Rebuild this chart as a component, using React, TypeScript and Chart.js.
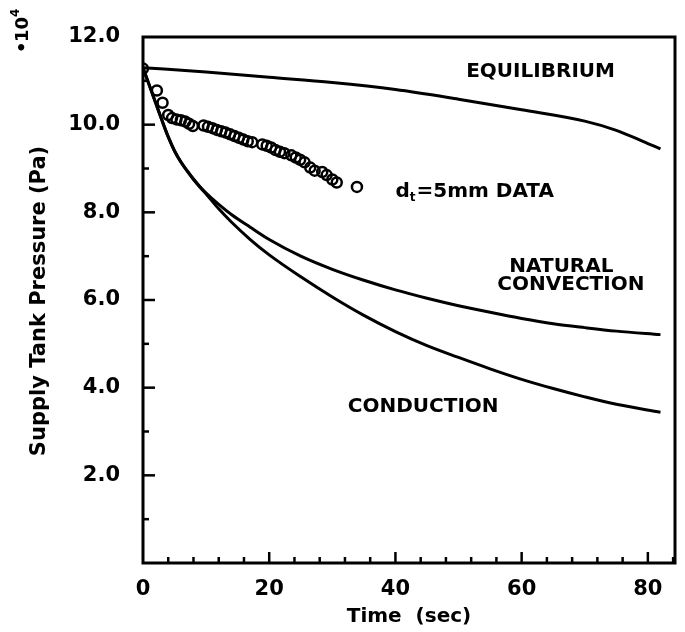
import React, { useEffect, useRef } from "react";
import { Chart, registerables } from "chart.js";

Chart.register(...registerables);

// Measured data (d_t = 5 mm)
const dataTime = [0, 2.2, 3.1, 4.0, 4.6, 5.3, 6.0, 6.7, 7.3, 7.9, 9.6, 10.3, 11.0, 11.7, 12.4, 13.1, 13.8, 14.5, 15.2, 15.9, 16.6, 17.3, 18.9, 19.6, 20.3, 21.0, 21.7, 22.4, 23.5, 24.2, 24.9, 25.6, 26.5, 27.2, 28.4, 29.1, 30.0, 30.7, 33.9];
const dataPressure = [11.28, 10.78, 10.5, 10.22, 10.15, 10.12, 10.1, 10.07, 10.02, 9.97, 9.98, 9.95, 9.92, 9.88, 9.85, 9.82, 9.78, 9.74, 9.7, 9.66, 9.62, 9.6, 9.55, 9.52, 9.48, 9.42, 9.38, 9.35, 9.3, 9.25, 9.2, 9.14, 9.02, 8.95, 8.92, 8.85, 8.75, 8.68, 8.58];

// Model curves
const eqTime = [0, 10, 20, 30, 40, 50, 60, 70, 75, 80, 82];
const eqPressure = [11.3, 11.2, 11.08, 10.96, 10.8, 10.58, 10.34, 10.08, 9.87, 9.57, 9.45];

const ncTime = [0, 1, 2, 3, 4, 5, 6, 7, 8, 9, 10, 12, 14, 17, 20, 25, 30, 35, 40, 45, 50, 55, 60, 65, 70, 75, 82];
const ncPressure = [11.3, 10.9, 10.5, 10.1, 9.72, 9.4, 9.15, 8.95, 8.76, 8.59, 8.44, 8.18, 7.95, 7.66, 7.38, 7.0, 6.7, 6.45, 6.23, 6.04, 5.87, 5.72, 5.58, 5.46, 5.37, 5.29, 5.21];

const cdTime = [0, 1, 2, 3, 4, 5, 6, 7, 8, 9, 10, 12, 14, 17, 20, 25, 30, 35, 40, 45, 50, 55, 60, 65, 70, 75, 82];
const cdPressure = [11.3, 10.9, 10.5, 10.1, 9.72, 9.4, 9.15, 8.94, 8.75, 8.58, 8.42, 8.08, 7.78, 7.38, 7.03, 6.53, 6.07, 5.65, 5.28, 4.96, 4.69, 4.43, 4.19, 3.98, 3.79, 3.62, 3.44];

const xLabelValues = [0, 20, 40, 60, 80];
const yLabelValues = [2, 4, 6, 8, 10, 12];

const FONT = "'DejaVu Sans', 'Liberation Sans', sans-serif";

const toXY = (xs: number[], ys: number[]) => xs.map((x, i) => ({ x, y: ys[i] }));

const decor = {
  id: "decor",
  afterDraw(chart: any) {
    const { ctx, chartArea: a, scales } = chart;
    const xs = scales.x;
    const ys = scales.y;
    ctx.save();
    ctx.strokeStyle = "#000";
    ctx.fillStyle = "#000";
    ctx.lineCap = "square";
    ctx.lineWidth = 3;
    ctx.strokeRect(a.left, a.top, a.right - a.left, a.bottom - a.top);

    ctx.lineWidth = 2.5;
    ctx.lineCap = "butt";
    for (let t = 4; t <= 84; t += 4) {
      const px = xs.getPixelForValue(t);
      const len = t % 20 === 0 ? 11 : 6;
      ctx.beginPath();
      ctx.moveTo(px, a.bottom);
      ctx.lineTo(px, a.bottom - len);
      ctx.stroke();
    }
    for (let v = 1; v < 12; v += 1) {
      const py = ys.getPixelForValue(v);
      const len = v % 2 === 0 ? 12 : 6;
      ctx.beginPath();
      ctx.moveTo(a.left, py);
      ctx.lineTo(a.left + len, py);
      ctx.stroke();
    }

    // Annotations
    const font = (s: number) => `bold ${s}px ${FONT}`;
    ctx.textBaseline = "middle";
    ctx.font = font(20);
    ctx.textAlign = "center";
    ctx.fillText("EQUILIBRIUM", xs.getPixelForValue(63.0), ys.getPixelForValue(11.2));
    ctx.fillText("NATURAL", xs.getPixelForValue(66.3), ys.getPixelForValue(6.76));
    ctx.fillText("CONVECTION", xs.getPixelForValue(67.8), ys.getPixelForValue(6.35));
    ctx.fillText("CONDUCTION", xs.getPixelForValue(44.4), ys.getPixelForValue(3.57));

    // d_t=5mm DATA
    ctx.textAlign = "left";
    let dx = xs.getPixelForValue(40.0);
    const dy = ys.getPixelForValue(8.47);
    ctx.font = font(20);
    ctx.fillText("d", dx, dy);
    dx += ctx.measureText("d").width;
    ctx.font = font(12);
    ctx.fillText("t", dx, dy + 6);
    dx += ctx.measureText("t").width + 1;
    ctx.font = font(20);
    ctx.fillText("=5mm DATA", dx, dy);

    // Axis titles
    ctx.font = font(20);
    ctx.textAlign = "center";
    ctx.fillText("Time  (sec)", (a.left + a.right) / 2, a.bottom + 54);

    ctx.save();
    ctx.translate(a.left - 103, (a.top + a.bottom) / 2 + 1);
    ctx.rotate(-Math.PI / 2);
    ctx.font = font(21);
    ctx.fillText("Supply Tank Pressure (Pa)", 0, 0);
    ctx.restore();

    // *10^4 multiplier
    ctx.save();
    ctx.translate(a.left - 120, a.top + 16);
    ctx.rotate(-Math.PI / 2);
    ctx.textAlign = "left";
    ctx.font = font(18);
    ctx.fillText("\u2022", 0, 0);
    ctx.fillText("10", 11, 0);
    ctx.font = font(12);
    ctx.fillText("4", 36, -7);
    ctx.restore();

    ctx.restore();
  },
};

export default function App() {
  const ref = useRef<HTMLCanvasElement | null>(null);

  useEffect(() => {
    if (!ref.current) return;
    const lineStyle = {
      showLine: true,
      pointRadius: 0,
      borderColor: "#000",
      borderWidth: 3,
      cubicInterpolationMode: "monotone" as const,
      fill: false,
    };
    const chart = new Chart(ref.current, {
      type: "scatter",
      data: {
        datasets: [
          { label: "Equilibrium", data: toXY(eqTime, eqPressure), ...lineStyle },
          { label: "Natural convection", data: toXY(ncTime, ncPressure), ...lineStyle },
          { label: "Conduction", data: toXY(cdTime, cdPressure), ...lineStyle },
          {
            label: "d_t=5mm data",
            data: toXY(dataTime, dataPressure),
            showLine: false,
            pointRadius: 5,
            pointBorderWidth: 2.5,
            pointBorderColor: "#000",
            pointBackgroundColor: "rgba(0,0,0,0)",
          },
        ],
      },
      options: {
        responsive: false,
        animation: false,
        devicePixelRatio: 1,
        layout: { padding: { top: 37, right: 10, left: 0, bottom: 0 } },
        plugins: { legend: { display: false }, tooltip: { enabled: false } },
        scales: {
          x: {
            type: "linear",
            min: 0,
            max: 84.3,
            grid: { display: false, drawTicks: false },
            border: { display: false },
            afterFit: (s: any) => {
              s.height = 69;
              s.paddingRight = 0;
            },
            ticks: {
              stepSize: 4,
              includeBounds: false,
              autoSkip: false,
              maxRotation: 0,
              padding: 14,
              color: "#000",
              font: { family: FONT, size: 21, weight: "bold" },
              callback: (v: any) => (xLabelValues.includes(Number(v)) ? String(v) : ""),
            },
          },
          y: {
            type: "linear",
            min: 0,
            max: 12,
            grid: { display: false, drawTicks: false },
            border: { display: false },
            afterFit: (s: any) => {
              s.width = 143;
            },
            ticks: {
              stepSize: 1,
              autoSkip: false,
              padding: 23,
              color: "#000",
              font: { family: FONT, size: 21, weight: "bold" },
              callback: (v: any) => (yLabelValues.includes(Number(v)) ? Number(v).toFixed(1) : ""),
            },
          },
        },
      },
      plugins: [decor],
    });
    return () => chart.destroy();
  }, []);

  return (
    <div style={{ position: "fixed", left: 0, top: 0, width: 685, height: 632, background: "#fff" }}>
      <canvas ref={ref} width={685} height={632} />
    </div>
  );
}
